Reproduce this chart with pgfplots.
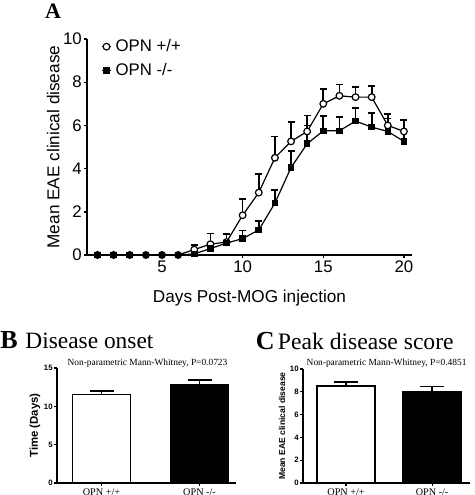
\documentclass[border=0pt]{standalone}
\usepackage{pgfplots}
\pgfplotsset{compat=1.18}
\usepackage{fontspec}
\setmainfont{Liberation Serif}
\newfontfamily\arial{Liberation Sans}

\pgfplotstableread{
day plus eplus minus eminus
1 0 0 0 0
2 0 0 0 0
3 0 0 0 0
4 0 0 0 0
5 0 0 0 0
6 0 0 0 0
7 0.25 0.21 0.05 0.05
8 0.50 0.50 0.30 0.20
9 0.60 0.35 0.55 0.45
10 1.84 0.74 0.76 0.37
11 2.89 0.85 1.16 0.42
12 4.50 0.99 2.40 0.61
13 5.26 0.91 4.05 0.76
14 5.72 0.74 5.15 0.85
15 7.00 0.68 5.75 0.70
16 7.37 0.53 5.75 0.63
17 7.31 0.46 6.20 0.59
18 7.31 0.53 5.92 0.65
19 6.00 0.52 5.72 0.60
20 5.72 0.54 5.26 0.50
}\eae

\begin{document}
\begin{tikzpicture}
\path[use as bounding box] (0,0) rectangle (237.5pt,247.5pt);

% ---------------- Panel A ----------------
\begin{axis}[
  at={(43.5pt,120pt)}, anchor=south west,
  scale only axis, width=162.5pt, height=108pt,
  xmin=0.35, xmax=20.5, ymin=0, ymax=10,
  axis lines*=left,
  axis line style={line width=0.7pt},
  tick style={line width=0.7pt, black},
  tick align=outside, major tick length=1.6pt,
  xtick={5,10,15,20}, ytick={0,2,4,6,8,10},
  /pgf/number format/assume math mode=true,
  tick label style={font=\arial\fontsize{8.4}{10}\selectfont},
  yticklabel style={inner sep=0.8pt},
  xticklabel style={inner sep=1.2pt},
  xlabel={Days Post-MOG injection},
  ylabel={Mean EAE clinical disease},
  every axis x label/.style={at={(axis description cs:0.5,-0.198)}, anchor=center,
    font=\arial\fontsize{8.6}{10}\selectfont},
  every axis y label/.style={at={(axis description cs:-0.104,0.5)}, rotate=90, anchor=center,
    font=\arial\fontsize{8.6}{10}\selectfont},
  clip=false,
  legend cell align=left,
  legend style={draw=none, fill=none, at={(axis description cs:0.043,1.02)}, anchor=north west,
    font=\arial\fontsize{8.4}{10}\selectfont, inner sep=0pt, row sep=0.35pt,
    /tikz/every even column/.append style={column sep=3.4pt}},
  legend image code/.code={\draw[#1, mark repeat=2, mark phase=2] plot coordinates {(0pt,0pt) (2.25pt,0pt) (4.5pt,0pt)};},
]
\addplot[black, line width=0.6pt, mark=*, mark size=1.67pt,
  mark options={fill=white, draw=black, line width=0.6pt},
  error bars/.cd, y dir=plus, y explicit,
  error bar style={line width=0.85pt, black},
  error mark options={rotate=90, mark size=1.75pt, line width=0.85pt, black}]
  table[x=day, y=plus, y error=eplus] {\eae};
\addlegendentry{OPN +/+}
\addplot[black, line width=0.6pt, mark=square*, mark size=1.35pt,
  mark options={fill=black, draw=black},
  error bars/.cd, y dir=plus, y explicit,
  error bar style={line width=0.85pt, black},
  error mark options={rotate=90, mark size=1.75pt, line width=0.85pt, black}]
  table[x=day, y=minus, y error=eminus] {\eae};
\addlegendentry{OPN -/-}
\end{axis}

\node[font=\bfseries\fontsize{11}{12}\selectfont] at (26.5pt,242pt) {A};

% ---------------- Panel B ----------------
\node[anchor=base west, inner sep=0pt, font=\bfseries\fontsize{13}{14}\selectfont] at (0pt,73.3pt) {B};
\node[anchor=base west, inner sep=0pt, font=\fontsize{11.7}{13}\selectfont] at (12.5pt,73.3pt) {Disease onset};
\node[anchor=base, inner sep=0pt, font=\fontsize{4.7}{5}\selectfont] at (73.75pt,65pt) {Non-parametric Mann-Whitney, P=0.0723};

\begin{axis}[
  at={(28.5pt,6pt)}, anchor=south west,
  scale only axis, width=89.5pt, height=57.5pt,
  xmin=0.546, xmax=2.372, ymin=0, ymax=15,
  axis lines*=left,
  axis line style={line width=0.55pt},
  tick style={line width=0.55pt, black},
  tick align=outside, major tick length=1.5pt,
  xtick={1,2}, xticklabels={OPN +/+, OPN -/-},
  ytick={0,5,10,15},
  /pgf/number format/assume math mode=true,
  yticklabel style={font=\arial\bfseries\fontsize{3.9}{4}\selectfont, inner sep=0.5pt},
  xticklabel style={font=\fontsize{5.1}{6}\selectfont, inner sep=1pt},
  ylabel={Time (Days)},
  every axis y label/.style={at={(axis description cs:-0.123,0.5)}, rotate=90, anchor=center,
    font=\arial\bfseries\fontsize{5.7}{6}\selectfont},
  clip=false,
]
\addplot[ybar, bar width=29pt, fill=white, draw=black, line width=0.75pt,
  error bars/.cd, y dir=plus, y explicit,
  error bar style={line width=0.9pt, black},
  error mark options={rotate=90, mark size=6pt, line width=0.9pt, black}]
  coordinates {(1,11.55) +- (0,0.5)};
\addplot[ybar, bar width=29pt, fill=black, draw=black, line width=0.75pt,
  error bars/.cd, y dir=plus, y explicit,
  error bar style={line width=0.9pt, black},
  error mark options={rotate=90, mark size=6pt, line width=0.9pt, black}]
  coordinates {(2,12.83) +- (0,0.57)};
\end{axis}

% ---------------- Panel C ----------------
\node[anchor=base west, inner sep=0pt, font=\bfseries\fontsize{13}{14}\selectfont] at (127.8pt,73pt) {C};
\node[anchor=base west, inner sep=0pt, font=\fontsize{11.8}{13}\selectfont] at (138.8pt,73pt) {Peak disease score};
\node[anchor=base, inner sep=0pt, font=\fontsize{4.7}{5}\selectfont] at (193.3pt,65pt) {Non-parametric Mann-Whitney, P=0.4851};

\begin{axis}[
  at={(151.5pt,6pt)}, anchor=south west,
  scale only axis, width=83.5pt, height=57pt,
  xmin=0.5, xmax=2.44, ymin=0, ymax=10,
  axis lines*=left,
  axis line style={line width=0.55pt},
  tick style={line width=0.55pt, black},
  tick align=outside, major tick length=1.5pt,
  xtick={1,2}, xticklabels={OPN +/+, OPN -/-},
  ytick={0,2,4,6,8,10},
  /pgf/number format/assume math mode=true,
  yticklabel style={font=\arial\bfseries\fontsize{3.9}{4}\selectfont, inner sep=0.5pt},
  xticklabel style={font=\fontsize{5.1}{6}\selectfont, inner sep=1pt},
  ylabel={Mean EAE clinical disease},
  every axis y label/.style={at={(axis description cs:-0.126,0.5)}, rotate=90, anchor=center,
    font=\arial\bfseries\fontsize{4.3}{5}\selectfont},
  clip=false,
]
\addplot[ybar, bar width=29pt, fill=white, draw=black, line width=0.75pt,
  error bars/.cd, y dir=plus, y explicit,
  error bar style={line width=0.9pt, black},
  error mark options={rotate=90, mark size=6pt, line width=0.9pt, black}]
  coordinates {(1,8.5) +- (0,0.38)};
\addplot[ybar, bar width=29pt, fill=black, draw=black, line width=0.75pt,
  error bars/.cd, y dir=plus, y explicit,
  error bar style={line width=0.9pt, black},
  error mark options={rotate=90, mark size=6pt, line width=0.9pt, black}]
  coordinates {(2,8.02) +- (0,0.44)};
\end{axis}
\end{tikzpicture}
\end{document}
